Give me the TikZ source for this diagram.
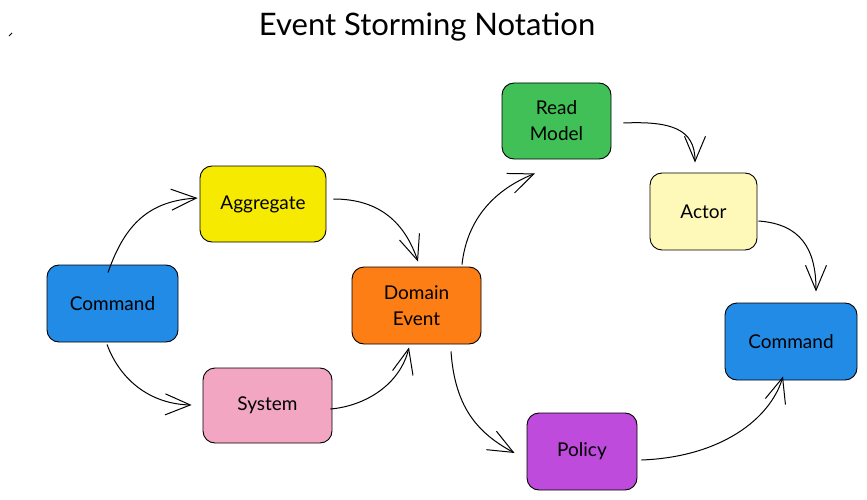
\documentclass[tikz,border=0pt]{standalone}
\usepackage{fontspec}
\setmainfont{Lato}
\usetikzlibrary{arrows.meta}
\definecolor{cblue}{RGB}{34,139,230}
\definecolor{cyellow}{RGB}{245,234,0}
\definecolor{cpink}{RGB}{243,166,194}
\definecolor{corange}{RGB}{253,126,20}
\definecolor{cgreen}{RGB}{64,192,87}
\definecolor{cpurple}{RGB}{190,75,219}
\definecolor{clight}{RGB}{255,249,185}
\begin{document}
\begin{tikzpicture}[x=1pt,y=1pt,
  box/.style={draw=black, line width=0.9pt, rounded corners=12pt, inner sep=0pt,
    align=center, font=\fontsize{19}{26}\selectfont},
  conn/.style={draw=black, line width=1pt,
    -{Straight Barb[length=25pt,width=21pt,line width=1pt]}},
  tick/.style={draw=black, line width=0.8pt}]
\useasboundingbox (0,0) rectangle (867,499);

\node[font=\fontsize{31}{36}\selectfont] (title) at (427,472) {Event Storming Notation};
\coordinate (m1) at (9,463);
\coordinate (m2) at (12,466);
\draw[tick] (m1) -- (m2);

\node[box, fill=cblue,   minimum width=131pt, minimum height=77pt] (cmdL)  at (112.5,195.5) {Command};
\node[box, fill=cyellow, minimum width=126pt, minimum height=76pt] (agg)   at (263,295) {Aggregate};
\node[box, fill=cpink,   minimum width=129pt, minimum height=75pt] (sys)   at (267.5,93.5) {System};
\node[box, fill=corange, minimum width=129pt, minimum height=77pt] (dom)   at (416.5,193.5) {Domain\\Event};
\node[box, fill=cgreen,  minimum width=109pt, minimum height=76pt] (read)  at (556.5,378) {Read\\Model};
\node[box, fill=cpurple, minimum width=110pt, minimum height=77pt] (pol)   at (582,47.5) {Policy};
\node[box, fill=clight,  minimum width=107pt, minimum height=77pt] (actor) at (703.5,287.5) {Actor};
\node[box, fill=cblue,   minimum width=132pt, minimum height=77pt] (cmdR)  at (791,157.5) {Command};

\draw[conn] ([xshift=-4.5pt,yshift=-8pt]cmdL.north) .. controls +(17,49) and +(-48,-3) .. ([xshift=-2pt,yshift=6pt]agg.west);
\draw[conn] ([xshift=-5.5pt,yshift=-2pt]cmdL.south) .. controls +(13,-35) and +(-42,1) .. ([xshift=-11pt,yshift=0.5pt]sys.west);
\draw[conn] ([xshift=7pt,yshift=5pt]agg.east) .. controls +(47,0) and +(-13,38) .. ([xshift=1.5pt,yshift=5pt]dom.north);
\draw[conn] ([xshift=-2pt,yshift=-3.5pt]sys.east) .. controls +(35,3) and +(-9,-37) .. ([xshift=-7.5pt,yshift=-3pt]dom.south);
\draw[conn] ([xshift=45.5pt,yshift=2pt]dom.north) .. controls +(5,46) and +(-40,-16) .. ([xshift=-21.5pt,yshift=-14pt]read.south);
\draw[conn] ([xshift=34.5pt,yshift=-7pt]dom.south) .. controls +(4,-58) and +(-35,19) .. ([xshift=-12pt,yshift=-1.5pt]pol.west);
\draw[conn] ([xshift=12pt,yshift=-2pt]read.east) .. controls +(47,2) and +(0,34) .. ([xshift=-8.5pt,yshift=10pt]actor.north);
\draw[conn] ([xshift=1pt,yshift=-9.5pt]actor.east) .. controls +(42,-3) and +(0,43) .. ([xshift=25pt,yshift=11pt]cmdR.north);
\draw[conn] ([xshift=4pt,yshift=-8.5pt]pol.east) .. controls +(79,3) and +(-13,-43) .. ([xshift=-8pt,yshift=4pt]cmdR.south);
\end{tikzpicture}
\end{document}
